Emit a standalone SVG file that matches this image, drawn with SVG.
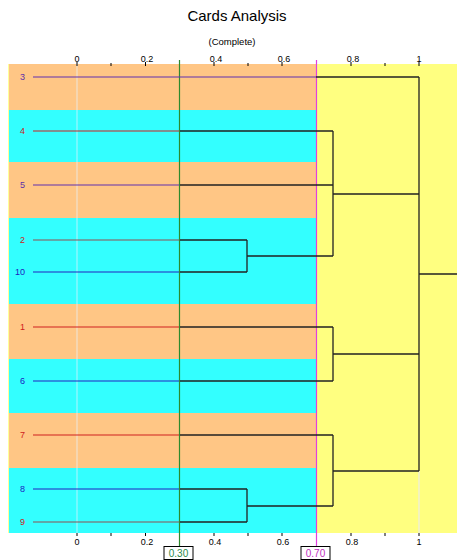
<svg xmlns="http://www.w3.org/2000/svg" width="457" height="560" viewBox="0 0 457 560">
<style>
text{font-family:"Liberation Sans",Arial,sans-serif}
.tick{font-size:9px;fill:#000;text-anchor:middle}
.lab{font-size:9px;text-anchor:end}
.tk{stroke:#000;stroke-width:1}
.br{stroke:#222;stroke-width:1.3;fill:none}
.red{fill:#d02020}.blue{fill:#2020c0}.pur{fill:#6030a8}
.lr{stroke:#d02020;stroke-width:1.2}.lb{stroke:#2424c0;stroke-width:1.2}.lp{stroke:#6030b0;stroke-width:1.2}.lbr{stroke:#905050;stroke-width:1.2}
</style>
<rect width="457" height="560" fill="#fff"/>
<g id="background">
<rect x="316" y="64" width="141" height="469" fill="#ffff80"/>
<rect x="8" y="64" width="308" height="46" fill="#ffc685"/>
<rect x="8" y="110" width="308" height="52" fill="#33ffff"/>
<rect x="8" y="162" width="308" height="56" fill="#ffc685"/>
<rect x="8" y="218" width="308" height="86" fill="#33ffff"/>
<rect x="8" y="304" width="308" height="55" fill="#ffc685"/>
<rect x="8" y="359" width="308" height="54" fill="#33ffff"/>
<rect x="8" y="413" width="308" height="55" fill="#ffc685"/>
<rect x="8" y="468" width="308" height="65" fill="#33ffff"/>
<line x1="8.5" y1="64" x2="8.5" y2="533" stroke="#ffff99" stroke-width="1"/>
<line x1="77" y1="64" x2="77" y2="533" stroke="#e8f4ff" stroke-width="1.2" opacity="0.6"/>
<line x1="419" y1="471" x2="419" y2="533" stroke="#f0f0d0" stroke-width="1.5"/>
</g>
<g id="title">
<text x="237" y="21" font-size="15" text-anchor="middle">Cards Analysis</text>
<text x="232" y="45" font-size="9.5" text-anchor="middle">(Complete)</text>
</g>
<g id="axis-top">
<text class="tick" x="77" y="62">0</text>
<text class="tick" x="147" y="62">0.2</text>
<text class="tick" x="216" y="62">0.4</text>
<text class="tick" x="284" y="62">0.6</text>
<text class="tick" x="353" y="62">0.8</text>
<text class="tick" x="419" y="62">1</text>
<path class="tk" d="M77 62v4M111 63v3M145.5 62v4M214 62v4M248 63v3M282 62v4M351 62v4M385 63v3M419 62v4"/>
</g>
<g id="axis-bottom">
<path class="tk" d="M77 533v3M111 533v3M145.5 533v3M179.5 533v3M214 533v3M248 533v3M282 533v3M316.5 533v3M351 533v3M385 533v3M419 533v3"/>
<text class="tick" x="77" y="545">0</text>
<text class="tick" x="147" y="545">0.2</text>
<text class="tick" x="215" y="545">0.4</text>
<text class="tick" x="283" y="545">0.6</text>
<text class="tick" x="352" y="545">0.8</text>
<text class="tick" x="419" y="545">1</text>
</g>
<g id="cut-030">
<line x1="179.5" y1="60" x2="179.5" y2="547" stroke="#2e8a2e" stroke-width="1.2"/>
<rect x="164" y="546.5" width="29" height="13" fill="#fff" stroke="#000" stroke-width="1"/>
<text x="178.5" y="557" font-size="10" fill="#2a8a4a" text-anchor="middle">0.30</text>
</g>
<g id="cut-070">
<line x1="316.5" y1="60" x2="316.5" y2="547" stroke="#e040e0" stroke-width="1.2"/>
<rect x="301" y="546.5" width="29" height="13" fill="#fff" stroke="#000" stroke-width="1"/>
<text x="315.5" y="557" font-size="10" fill="#c030c0" text-anchor="middle">0.70</text>
</g>
<g id="leaf-3"><text class="lab pur" x="25" y="80">3</text><line class="lp" x1="33" y1="77" x2="316" y2="77"/></g>
<g id="leaf-4"><text class="lab red" x="25" y="134">4</text><line class="lr" x1="33" y1="131" x2="179" y2="131"/></g>
<g id="leaf-5"><text class="lab pur" x="25" y="188">5</text><line class="lp" x1="33" y1="185" x2="179" y2="185"/></g>
<g id="leaf-2"><text class="lab red" x="25" y="243">2</text><line class="lbr" x1="33" y1="240" x2="179" y2="240"/></g>
<g id="leaf-10"><text class="lab blue" x="25" y="275">10</text><line class="lb" x1="33" y1="272" x2="179" y2="272"/></g>
<g id="leaf-1"><text class="lab red" x="25" y="330">1</text><line class="lr" x1="33" y1="327" x2="179" y2="327"/></g>
<g id="leaf-6"><text class="lab blue" x="25" y="384">6</text><line class="lb" x1="33" y1="381" x2="179" y2="381"/></g>
<g id="leaf-7"><text class="lab red" x="25" y="438">7</text><line class="lr" x1="33" y1="435" x2="179" y2="435"/></g>
<g id="leaf-8"><text class="lab blue" x="25" y="492">8</text><line class="lb" x1="33" y1="489" x2="179" y2="489"/></g>
<g id="leaf-9"><text class="lab red" x="25" y="525">9</text><line class="lbr" x1="33" y1="522" x2="179" y2="522"/></g>
<g id="connectors">
<path class="br" d="M316 77H419"/>
<path class="br" d="M180 131H333M180 185H333M180 240H247M180 272H247"/>
<path class="br" d="M247 240V272M247 256H333M333 131V256M333 194H419"/>
<path class="br" d="M180 327H333M180 381H333M333 327V381M333 354H419"/>
<path class="br" d="M180 435H333M180 489H247M180 522H247M247 489V522M247 506H333M333 435V506M333 471H419"/>
<path class="br" d="M419 77V471M419 274H457" stroke="#555" stroke-width="1.6"/>
</g>
</svg>
